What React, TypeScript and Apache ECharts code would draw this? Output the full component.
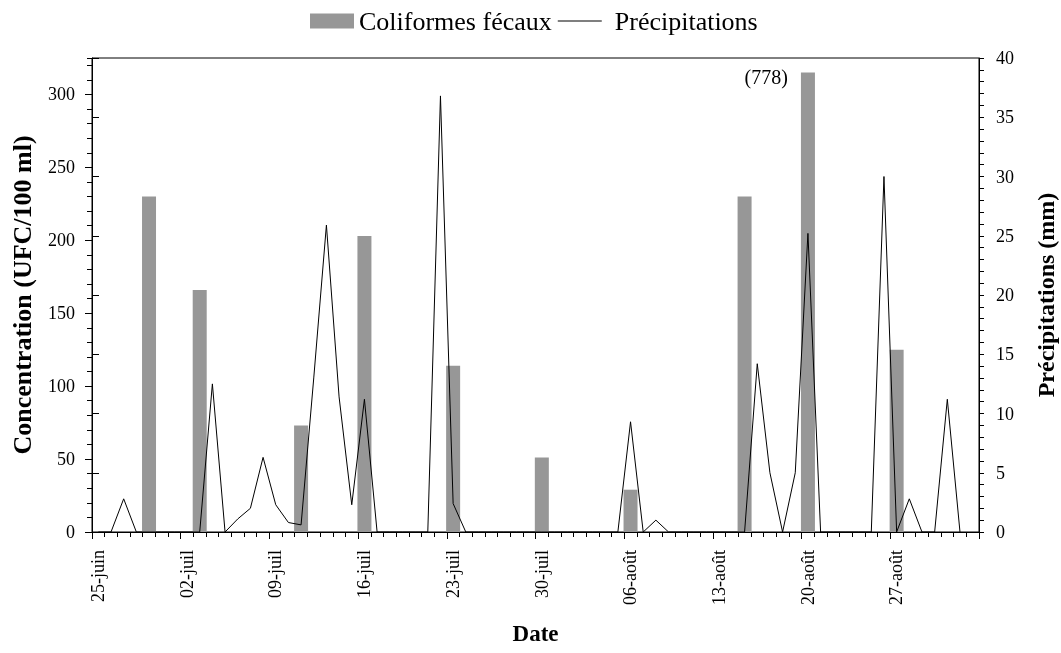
import React, { useEffect, useRef } from "react";
import * as echarts from "echarts";

// day 0 = 25-juin, the axis runs to 03-sept (day 70)
const weekLabels = [
  "25-juin", "02-juil", "09-juil", "16-juil", "23-juil",
  "30-juil", "06-août", "13-août", "20-août", "27-août",
];

// sampling dates and fecal coliforms (UFC/100 ml)
const coliDates = [
  "29-juin", "03-juil", "11-juil", "16-juil", "23-juil",
  "30-juil", "06-août", "15-août", "20-août", "27-août",
];
const coliValues = [230, 166, 73, 203, 114, 51, 29, 230, 315, 125];

// the 20-août bar is off scale, its real value is written next to it
const offScaleDate = "20-août";
const offScaleLabel = "(778)";

// daily rain (mm) from 25-juin
const precipitation = [
  0, 0, 2.8, 0, 0, 0, 0, 0, 0, 12.5,
  0, 1.1, 2.0, 6.3, 2.3, 0.8, 0.6, 13.0, 25.9, 11.4,
  2.3, 11.2, 0, 0, 0, 0, 0, 36.8, 2.4, 0,
  0, 0, 0, 0, 0, 0, 0, 0, 0, 0,
  0, 0, 9.3, 0, 1.0, 0, 0, 0, 0, 0,
  0, 0, 14.2, 5.0, 0, 5.0, 25.2, 0, 0, 0,
  0, 0, 30.0, 0, 2.8, 0, 0, 11.2, 0,
];

const monthIndex: Record<string, number> = { juin: 5, juil: 6, "août": 7, sept: 8 };
const dayOf = (label: string) => {
  const [d, m] = label.split("-");
  return (Date.UTC(2000, monthIndex[m], +d) - Date.UTC(2000, 5, 25)) / 86400000;
};

const font = "'Liberation Serif', 'Times New Roman', serif";
const black = "#000";
const tickFont = { fontFamily: font, fontSize: 18, color: black };
const titleFont = { fontFamily: font, fontSize: 26, fontWeight: "bold" as const, color: black };

const App: React.FC = () => {
  const chartRef = useRef<HTMLDivElement>(null);

  useEffect(() => {
    if (!chartRef.current) return;
    const chart = echarts.init(chartRef.current, null, { renderer: "svg" });

    const xBase = {
      type: "value" as const,
      position: "bottom" as const,
      min: 0,
      max: 70,
      splitLine: { show: false },
    };
    const line = { lineStyle: { color: black, width: 1 } };

    const option: echarts.EChartsOption = {
      animation: false,
      grid: {
        left: 92,
        right: 82,
        top: 58,
        bottom: 121,
        show: true,
        borderColor: black,
        borderWidth: 1,
        outerBoundsMode: "none",
      } as any,
      legend: {
        top: 8,
        left: 310,
        padding: 0,
        itemWidth: 44,
        itemHeight: 15,
        itemGap: 6,
        textStyle: { fontFamily: font, fontSize: 26, color: black },
        data: [
          { name: "Coliformes fécaux", icon: "rect" },
          {
            name: "Précipitations",
            icon: "path://M0,0H44V1H0Z",
            textStyle: { padding: [0, 0, 0, 8] },
          },
        ],
      },
      xAxis: [
        {
          ...xBase,
          interval: 1,
          axisLine: { onZero: false, ...line },
          axisTick: { length: 5, ...line },
          axisLabel: { show: false },
        },
        {
          ...xBase,
          interval: 7,
          axisLine: { show: false, onZero: false },
          axisTick: { length: 7, ...line },
          axisLabel: {
            ...tickFont,
            rotate: 90,
            margin: 18,
            verticalAlign: "top",
            lineHeight: 12,
            formatter: (v: number) => weekLabels[v / 7] ?? "",
          },
          name: "Date",
          nameLocation: "middle",
          nameGap: 90,
          nameTextStyle: { ...titleFont, fontSize: 23 },
        },
      ],
      yAxis: [
        {
          type: "value",
          position: "left",
          min: 0,
          max: 325,
          interval: 10,
          splitLine: { show: false },
          axisLine: { show: true, onZero: false, ...line },
          axisTick: { length: 5, ...line },
          axisLabel: { show: false },
        },
        {
          type: "value",
          position: "left",
          min: 0,
          max: 325,
          interval: 50,
          splitLine: { show: false },
          axisLine: { show: false },
          axisTick: { length: 7, ...line },
          axisLabel: { ...tickFont, margin: 17, showMaxLabel: false },
          name: "Concentration (UFC/100 ml)",
          nameLocation: "middle",
          nameGap: 57,
          nameTextStyle: titleFont,
        },
        {
          type: "value",
          position: "right",
          min: 0,
          max: 40,
          interval: 1,
          splitLine: { show: false },
          axisLine: { show: true, onZero: false, ...line },
          axisTick: { length: 5, ...line },
          axisLabel: { show: false },
        },
        {
          type: "value",
          position: "right",
          min: 0,
          max: 40,
          interval: 5,
          splitLine: { show: false },
          axisLine: { show: false },
          axisTick: { length: 7, ...line },
          axisLabel: { ...tickFont, margin: 17 },
          name: "Précipitations (mm)",
          nameLocation: "middle",
          nameGap: 55,
          nameTextStyle: { ...titleFont, fontSize: 24 },
        },
      ],
      series: [
        {
          name: "Coliformes fécaux",
          type: "bar",
          xAxisIndex: 0,
          yAxisIndex: 0,
          barWidth: 14,
          itemStyle: { color: "#979797" },
          data: coliDates.map((d, i) => ({
            value: [dayOf(d) + 0.5, coliValues[i]],
            label:
              d === offScaleDate
                ? {
                    show: true,
                    formatter: offScaleLabel,
                    position: [-13, 4],
                    align: "right",
                    verticalAlign: "middle",
                    fontFamily: font,
                    fontSize: 20,
                    color: black,
                  }
                : undefined,
          })),
        },
        {
          name: "Précipitations",
          type: "line",
          xAxisIndex: 0,
          yAxisIndex: 2,
          symbol: "none",
          lineStyle: { color: black, width: 1 },
          itemStyle: { color: black },
          data: precipitation.map((v, i) => [i + 0.5, v]),
        },
      ],
    };

    chart.setOption(option as any);
    return () => {
      chart.dispose();
    };
  }, []);

  return (
    <div
      ref={chartRef}
      style={{ position: "fixed", left: 0, top: 0, width: 1061, height: 653 }}
    />
  );
};

export default App;
